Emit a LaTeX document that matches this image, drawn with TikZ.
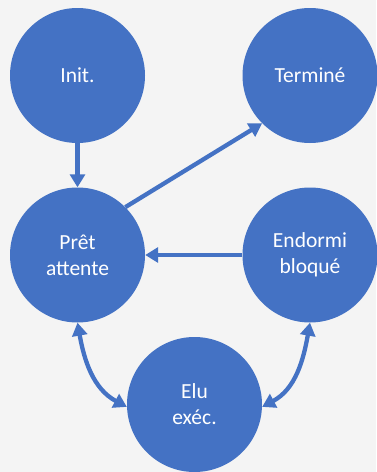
\documentclass[tikz,border=0pt]{standalone}
\usepackage{fontspec}
\setmainfont{Carlito}
\usetikzlibrary{arrows.meta}
\definecolor{stateblue}{HTML}{4472C4}
\definecolor{paper}{HTML}{F4F4F4}
\begin{document}
\begin{tikzpicture}[x=1pt,y=-1pt,
  state/.style={circle, fill=stateblue, draw=none, minimum size=135pt, inner sep=0pt,
    text=white, align=center, font=\fontsize{21.5}{26}\selectfont},
  tip/.tip={Triangle[length=13pt,width=15pt]},
  link/.style={draw=stateblue, line width=4.3pt, -tip},
  duplex/.style={link, tip-tip}]
  \fill[paper] (0,0) rectangle (376,472);
  \useasboundingbox (0,0) rectangle (376,472);

  \node[state] (init) at (77.5,75.5) {Init.};
  \node[state] (term) at (310,75.5) {Terminé};
  \node[state] (pret) at (77.5,255) {Prêt\\attente};
  \node[state] (dort) at (310,255) {Endormi\\bloqué};
  \node[state] (elu)  at (194.5,404.5) {Elu\\exéc.};

  \draw[link] (init.south) -- (pret.north);
  \draw[link] (pret.45) -- (term.225);
  \draw[link] (dort.west) -- (pret.east);
  \draw[duplex] (pret.south) to[out=-80, in=152] (elu.182);
  \draw[duplex] (dort.south) to[out=-100, in=28] (elu.-2);
\end{tikzpicture}
\end{document}
